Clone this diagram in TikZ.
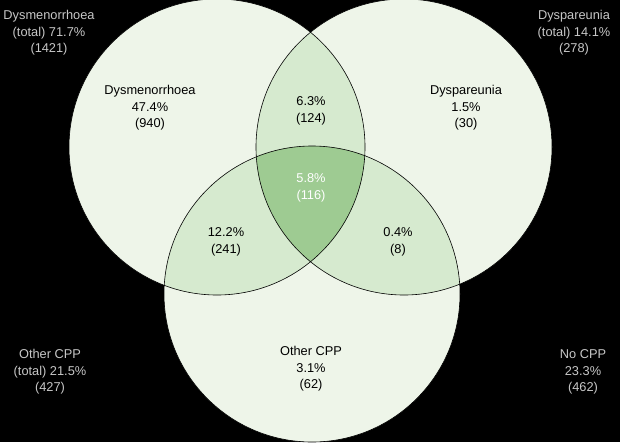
\documentclass[tikz,border=0pt]{standalone}
\usepackage{fontspec}
\setmainfont{Liberation Sans}
\begin{document}
\begin{tikzpicture}[x=1pt,y=-1pt,
  lbl/.style={align=center,font=\fontsize{12.8}{16.5}\selectfont,text=black,inner sep=0pt},
  outer/.style={align=center,font=\fontsize{12.8}{16.5}\selectfont,text=black!22,inner sep=0pt},
  circ/.style={draw=black,line width=0.6pt}]
\definecolor{c1}{HTML}{EEF5E9}
\definecolor{c2}{HTML}{D6EACF}
\definecolor{c3}{HTML}{9ECB92}
\fill[black] (0,0) rectangle (620,442);
\useasboundingbox (0,0) rectangle (620,442);
\coordinate (A) at (217,147);
\coordinate (B) at (404,147);
\coordinate (C) at (312,294);
\def\R{148}
% base fills
\fill[c1] (A) circle (\R);
\fill[c1] (B) circle (\R);
\fill[c1] (C) circle (\R);
% pairwise
\begin{scope}\clip (A) circle (\R); \fill[c2] (B) circle (\R); \fill[c2] (C) circle (\R);\end{scope}
\begin{scope}\clip (B) circle (\R); \fill[c2] (C) circle (\R);\end{scope}
% triple
\begin{scope}\clip (A) circle (\R); \clip (B) circle (\R); \fill[c3] (C) circle (\R);\end{scope}
\draw[circ] (A) circle (\R);
\draw[circ] (B) circle (\R);
\draw[circ] (C) circle (\R);
% labels
\node[lbl] (dys) at (150,108) {Dysmenorrhoea\\47.4\%\\(940)};
\node[lbl] (dpa) at (466,108) {Dyspareunia\\1.5\%\\(30)};
\node[lbl] (ab) at (311,111) {6.3\%\\(124)};
\node[lbl,text=white] (abc) at (311,188) {5.8\%\\(116)};
\node[lbl] (ac) at (226,242) {12.2\%\\(241)};
\node[lbl] (bc) at (398,242) {0.4\%\\(8)};
\node[lbl] (oth) at (311,369) {Other CPP\\3.1\%\\(62)};
\node[outer] (tdys) at (49,33) {Dysmenorrhoea\\(total) 71.7\%\\(1421)};
\node[outer] (tdpa) at (574,33) {Dyspareunia\\(total) 14.1\%\\(278)};
\node[outer] (toth) at (50,372) {Other CPP\\(total) 21.5\%\\(427)};
\node[outer] (none) at (583,372) {No CPP\\23.3\%\\(462)};
\end{tikzpicture}
\end{document}
